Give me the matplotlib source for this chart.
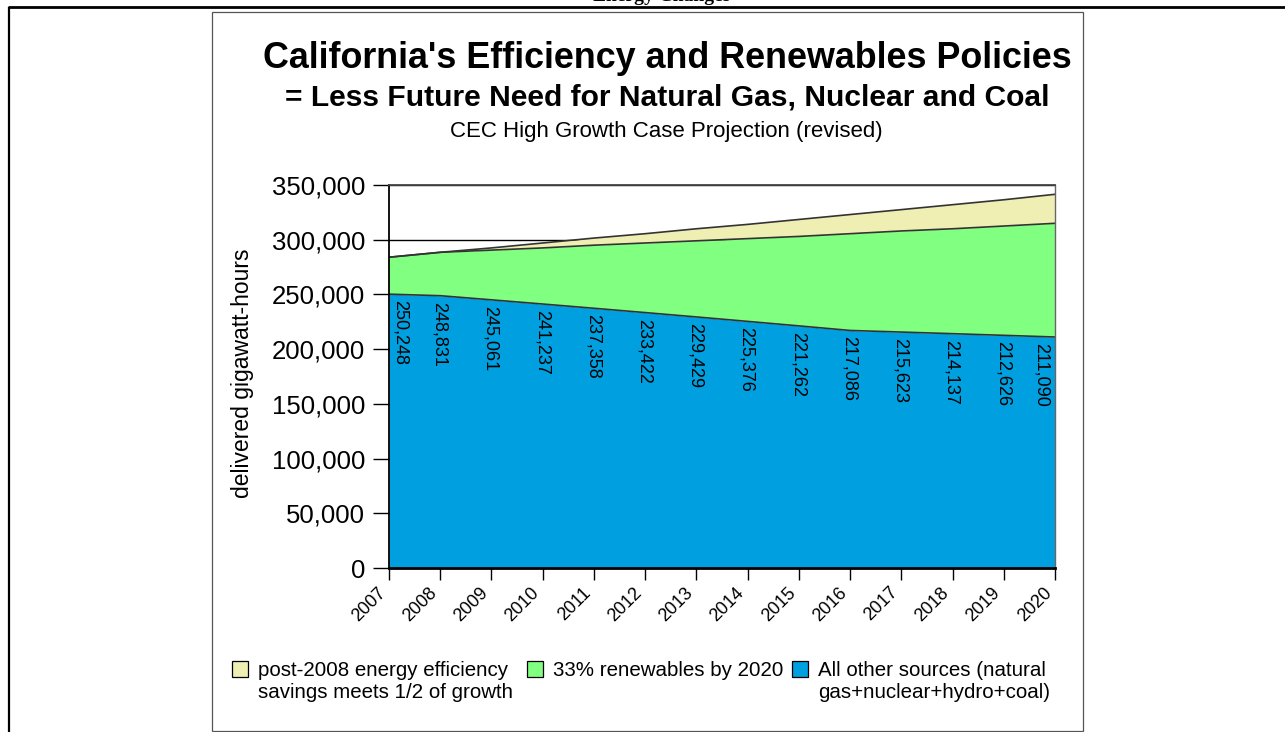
import matplotlib
matplotlib.use("Agg")
import matplotlib.pyplot as plt
import matplotlib.transforms as mtransforms
from matplotlib.patches import Rectangle

plt.rcParams['font.family'] = ['Liberation Sans', 'DejaVu Sans']

# CEC high growth case, delivered GWh
years = list(range(2007, 2021))
other_sources = [250248, 248831, 245061, 241237, 237358, 233422, 229429,
                 225376, 221262, 217086, 215623, 214137, 212626, 211090]
# demand after efficiency (top of the renewables band)
renewables_top = [284000, 288500, 290500, 292500, 295000, 297000, 299000,
                  301000, 303000, 305500, 308000, 310000, 312500, 315000]
# demand without post-2008 efficiency (top of the efficiency band)
efficiency_top = [284000, 288500, 292500, 297000, 301500, 305500, 310000,
                  314000, 318500, 323000, 327500, 332000, 336500, 341500]
y_ticks = [0, 50000, 100000, 150000, 200000, 250000, 300000, 350000]

c_eff = '#EFEFB4'
c_ren = '#80FF80'
c_oth = '#009FDF'
legend_items = [
    (c_eff, ["post-2008 energy efficiency", "savings meets 1/2 of growth"]),
    (c_ren, ["33% renewables by 2020"]),
    (c_oth, ["All other sources (natural", "gas+nuclear+hydro+coal)"]),
]

W, H = 1285, 732
fig = plt.figure(figsize=(W / 100, H / 100), dpi=100)

# page layer in pixel coordinates
page = fig.add_axes([0, 0, 1, 1])
page.set_xlim(0, W)
page.set_ylim(H, 0)
page.axis('off')
page.plot([8, W], [7, 7], color='black', lw=2.0, solid_capstyle='butt')
page.plot([9, 9], [7, H], color='black', lw=1.6, solid_capstyle='butt')
page.add_patch(Rectangle((212, 12), 871, 719, fill=False, edgecolor='#555555', lw=0.9))
page.text(662, 1, "Energy Changes", family='Liberation Serif', weight='bold',
          size=14, ha='center', va='baseline')

page.text(667, 58, "California's Efficiency and Renewables Policies",
          size=25.8, weight='bold', ha='center', va='center')
page.text(667, 98, "= Less Future Need for Natural Gas, Nuclear and Coal",
          size=21.6, weight='bold', ha='center', va='center')
page.text(666, 132, "CEC High Growth Case Projection (revised)",
          size=16, ha='center', va='center')
page.text(243, 373, "delivered gigawatt-hours", size=16.5, rotation=90,
          ha='center', va='center')

# legend
lx = [232, 527, 792]
for x0, (col, lines) in zip(lx, legend_items):
    page.add_patch(Rectangle((x0, 661), 16, 16, facecolor=col, edgecolor='black', lw=0.9))
    for k, t in enumerate(lines):
        page.text(x0 + 26, 670 + 23 * k, t, size=14.8, ha='left', va='center')

# stacked areas
ax = fig.add_axes([389 / W, (H - 568) / H, 666 / W, 383 / H])
ax.set_axisbelow(True)
ax.yaxis.grid(True, color='black', lw=1.0)
ax.fill_between(years, 0, other_sources, color=c_oth, lw=0, zorder=2)
ax.fill_between(years, other_sources, renewables_top, color=c_ren, lw=0, zorder=2)
ax.fill_between(years, renewables_top, efficiency_top, color=c_eff, lw=0, zorder=2)
for top in (other_sources, renewables_top, efficiency_top):
    ax.plot(years, top, color='#333333', lw=1.2, zorder=3)

ax.set_xlim(2007, 2020)
ax.set_ylim(0, 350000)
ax.set_yticks(y_ticks)
ax.set_yticklabels([f"{v:,}" for v in y_ticks], fontsize=18.5)
ax.set_xticks(years)
ax.set_xticklabels([str(y) for y in years], fontsize=13, rotation=45, ha='right')
shift = mtransforms.ScaledTranslation(5 / 100, 0, fig.dpi_scale_trans)
for lab in ax.get_xticklabels():
    lab.set_transform(lab.get_transform() + shift)
ax.tick_params(axis='y', length=11.5, width=1, pad=5.5, direction='out')
ax.tick_params(axis='x', length=8.5, width=1, pad=3, direction='out')

ax.spines['left'].set_color('black')
ax.spines['left'].set_linewidth(1.3)
ax.spines['bottom'].set_color('black')
ax.spines['bottom'].set_linewidth(2.0)
ax.spines['top'].set_color('#444444')
ax.spines['top'].set_linewidth(1.3)
ax.spines['right'].set_color('#666666')
ax.spines['right'].set_linewidth(1.0)
for s in ax.spines.values():
    s.set_zorder(4)

# value labels under the top of the blue band
for i, (x, v) in enumerate(zip(years, other_sources)):
    if i == 0:
        ha, dx = 'left', 3
    elif i == len(years) - 1:
        ha, dx = 'right', -5
    else:
        ha, dx = 'center', -1
    ax.annotate(f"{v:,}", (x, v), xytext=(dx, -6), textcoords='offset pixels',
                rotation=270, ha=ha, va='top', fontsize=13, zorder=5)

fig.savefig('out.png', dpi=100)
